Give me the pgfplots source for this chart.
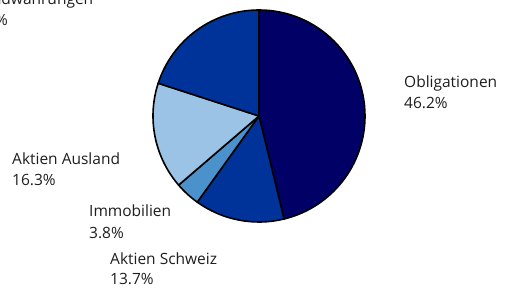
\documentclass[border=0pt]{standalone}
\usepackage{pgfplots}
\pgfplotsset{compat=1.18}
\usepackage{fontspec}
\setmainfont{Open Sans}
\definecolor{oblig}{RGB}{0,0,102}
\definecolor{ubsblue}{RGB}{0,51,153}
\definecolor{immo}{RGB}{75,146,205}
\definecolor{ausl}{RGB}{155,195,230}
\definecolor{txt}{RGB}{30,30,30}
% shares in percent (clockwise from 12 o'clock)
\def\vOblig{46.2}
\def\vCH{13.7}
\def\vImmo{3.8}
\def\vAusl{16.3}
\def\vFW{20.0}
\def\R{106}
\pgfmathsetmacro\aA{90}
\pgfmathsetmacro\aB{\aA-3.6*\vOblig}
\pgfmathsetmacro\aC{\aB-3.6*\vCH}
\pgfmathsetmacro\aD{\aC-3.6*\vImmo}
\pgfmathsetmacro\aE{\aD-3.6*\vAusl}
\pgfmathsetmacro\aF{\aE-3.6*\vFW}
\tikzset{lbl/.style={font=\fontsize{15.5}{18}\selectfont, text=txt, inner sep=0pt}}
\begin{document}
\begin{tikzpicture}
\useasboundingbox (0,0) rectangle (508pt,289pt);
\clip (0,0) rectangle (508pt,289pt);
\begin{axis}[
  at={(0pt,0pt)}, anchor=south west,
  x=1pt, y=1pt,
  xmin=-259, xmax=249, ymin=-173, ymax=116,
  hide axis, clip=false,
]
\tikzset{slice/.style={draw=black, line width=1.6pt, line join=round}}
\draw[slice, fill=oblig] (axis cs:0,0) -- ++(\aA:\R pt) arc[start angle=\aA, end angle=\aB, radius=\R pt] -- cycle;
\draw[slice, fill=ubsblue] (axis cs:0,0) -- ++(\aB:\R pt) arc[start angle=\aB, end angle=\aC, radius=\R pt] -- cycle;
\draw[slice, fill=immo] (axis cs:0,0) -- ++(\aC:\R pt) arc[start angle=\aC, end angle=\aD, radius=\R pt] -- cycle;
\draw[slice, fill=ausl] (axis cs:0,0) -- ++(\aD:\R pt) arc[start angle=\aD, end angle=\aE, radius=\R pt] -- cycle;
\draw[slice, fill=ubsblue] (axis cs:0,0) -- ++(\aE:\R pt) arc[start angle=\aE, end angle=\aF, radius=\R pt] -- cycle;

\node[lbl, anchor=base west] at (axis cs:145,28) {Obligationen};
\node[lbl, anchor=base west] at (axis cs:145,7) {46.2\%};
\node[lbl, anchor=base west] at (axis cs:-247,-49) {Aktien Ausland};
\node[lbl, anchor=base west] at (axis cs:-247,-70) {16.3\%};
\node[lbl, anchor=base west] at (axis cs:-170,-101) {Immobilien};
\node[lbl, anchor=base west] at (axis cs:-170,-122) {3.8\%};
\node[lbl, anchor=base west] at (axis cs:-149,-148) {Aktien Schweiz};
\node[lbl, anchor=base west] at (axis cs:-149,-168) {13.7\%};
\node[lbl, anchor=base east] (fwp) at (axis cs:-251,90) {20.0\%};
\node[lbl, anchor=base west] at ([yshift=21pt]fwp.base west) {Fremdwährungen};
\end{axis}
\end{tikzpicture}
\end{document}
